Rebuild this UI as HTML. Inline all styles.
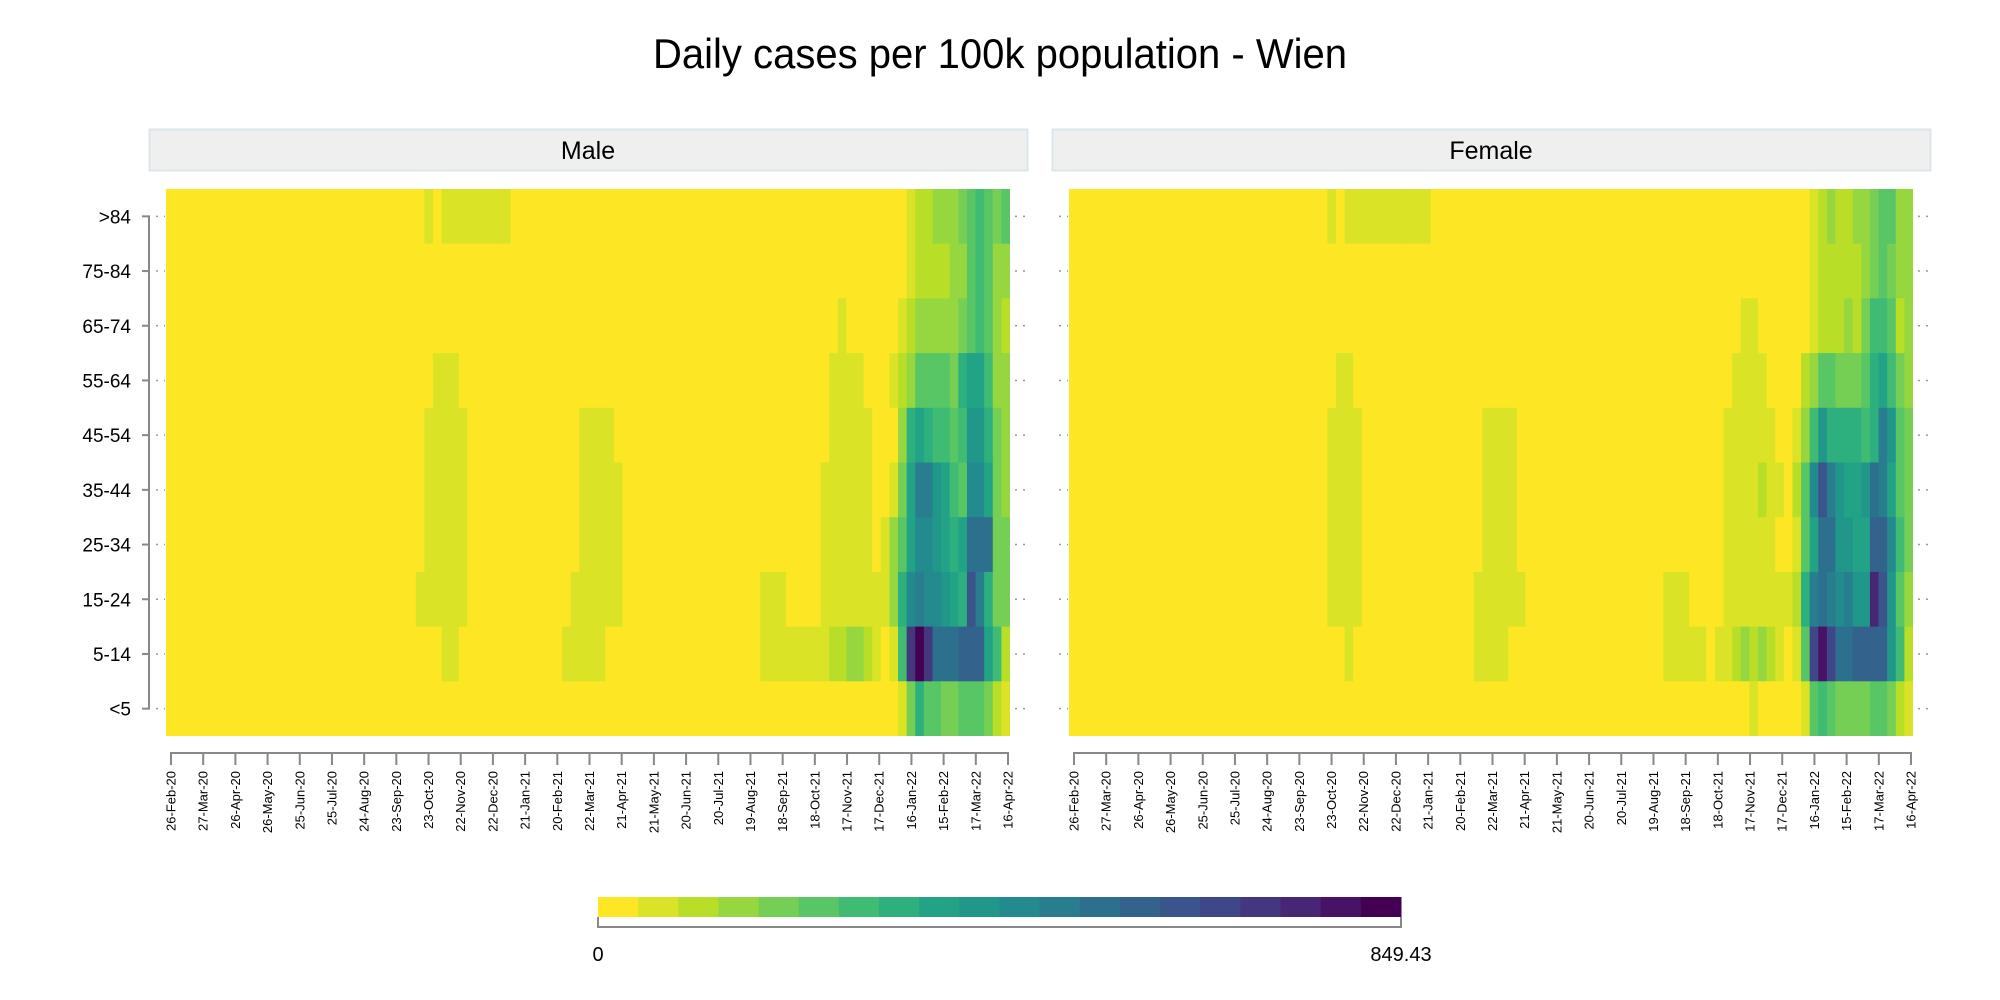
<!DOCTYPE html>
<html><head><meta charset="utf-8"><style>
html,body{margin:0;padding:0;background:#fff;}
svg{display:block;font-family:"Liberation Sans Narrow","Liberation Sans",sans-serif;}
</style></head><body>
<svg id="chart" width="2000" height="1000" viewBox="0 0 2000 1000" xmlns="http://www.w3.org/2000/svg">
<rect width="2000" height="1000" fill="#fff"/>
<text x="1000" y="68" text-anchor="middle" font-size="42" textLength="694" lengthAdjust="spacingAndGlyphs" fill="#000">Daily cases per 100k population - Wien</text>
<g><rect x="149.5" y="129.5" width="878" height="41" fill="#efefef" stroke="#dbe5ea" stroke-width="2"/><text x="588" y="159" text-anchor="middle" font-size="25" fill="#000">Male</text></g>
<g><rect x="1052.5" y="129.5" width="878" height="41" fill="#efefef" stroke="#dbe5ea" stroke-width="2"/><text x="1491" y="159" text-anchor="middle" font-size="25" fill="#000">Female</text></g>
<g id="layer"></g>
</svg>
<script>
const ageGroups = [">84","75-84","65-74","55-64","45-54","35-44","25-34","15-24","5-14","<5"];
const dateTicks = ["26-Feb-20","27-Mar-20","26-Apr-20","26-May-20","25-Jun-20","25-Jul-20","24-Aug-20","23-Sep-20","23-Oct-20","22-Nov-20","22-Dec-20","21-Jan-21","20-Feb-21","22-Mar-21","21-Apr-21","21-May-21","20-Jun-21","20-Jul-21","19-Aug-21","18-Sep-21","18-Oct-21","17-Nov-21","17-Dec-21","16-Jan-22","15-Feb-22","17-Mar-22","16-Apr-22"];
const numPeriods = 98;
const baseValue = 5;
const maxValue = 849.43;
const colorBins = 20;
// segments: [firstPeriod, lastPeriod, casesPer100k]
const maleSegments = [
[[30,30,62],[32,38,62],[39,39,62],[86,86,62],[87,88,105],[89,91,147],[92,92,190],[93,93,232],[94,94,275],[95,95,232],[96,96,190],[97,97,232]],
[[86,86,62],[87,90,105],[91,92,147],[93,93,232],[94,94,275],[95,95,232],[96,97,147]],
[[78,78,62],[85,85,62],[86,86,105],[87,91,147],[92,92,190],[93,93,232],[94,94,275],[95,95,232],[96,96,147],[97,97,105]],
[[31,33,62],[77,80,62],[84,84,62],[85,85,105],[86,86,147],[87,90,232],[91,91,190],[92,92,317],[93,94,360],[95,95,275],[96,97,147]],
[[30,34,62],[48,51,62],[77,81,62],[85,85,147],[86,86,317],[87,87,360],[88,88,317],[89,90,275],[91,91,232],[92,92,275],[93,94,402],[95,95,317],[96,96,190],[97,97,147]],
[[30,34,62],[48,52,62],[76,81,62],[84,84,62],[85,85,190],[86,86,360],[87,88,487],[89,89,402],[90,90,360],[91,91,275],[92,92,232],[93,94,445],[95,95,360],[96,96,190],[97,97,147]],
[[30,34,62],[48,52,62],[76,81,62],[83,83,62],[84,84,147],[85,85,232],[86,86,360],[87,88,445],[89,89,402],[90,90,360],[91,91,317],[92,92,360],[93,95,530],[96,97,190]],
[[29,34,62],[47,52,62],[69,71,62],[76,83,62],[84,84,147],[85,85,317],[86,86,445],[87,87,487],[88,89,445],[90,90,402],[91,91,360],[92,92,317],[93,93,615],[94,94,487],[95,95,317],[96,97,190]],
[[32,33,62],[46,50,62],[69,76,62],[77,78,105],[79,80,147],[81,81,105],[82,82,62],[84,84,62],[85,85,275],[86,86,700],[87,87,827],[88,88,700],[89,91,530],[92,94,572],[95,95,360],[96,96,275],[97,97,105]],
[[85,85,62],[86,86,190],[87,87,317],[88,89,232],[90,91,190],[92,94,232],[95,95,190],[96,96,105],[97,97,62]]
];
const femaleSegments = [
[[30,30,62],[32,41,62],[86,86,62],[87,87,105],[88,88,147],[89,90,105],[91,92,147],[93,93,190],[94,95,232],[96,97,147]],
[[86,86,62],[87,91,105],[92,92,147],[93,93,190],[94,94,232],[95,95,190],[96,97,147]],
[[78,79,62],[86,86,62],[87,89,105],[90,90,147],[91,91,105],[92,92,190],[93,94,275],[95,95,232],[96,96,105],[97,97,147]],
[[31,32,62],[77,80,62],[85,85,105],[86,86,147],[87,88,232],[89,91,190],[92,92,232],[93,93,317],[94,94,360],[95,95,275],[96,96,190],[97,97,147]],
[[30,33,62],[48,51,62],[76,81,62],[84,84,62],[85,85,147],[86,86,275],[87,87,402],[88,91,317],[92,92,275],[93,93,317],[94,94,487],[95,95,402],[96,96,232],[97,97,190]],
[[30,33,62],[48,51,62],[76,79,62],[80,80,105],[81,82,62],[84,84,105],[85,85,232],[86,86,445],[87,87,615],[88,88,487],[89,89,402],[90,91,360],[92,92,402],[93,93,530],[94,94,487],[95,95,360],[96,96,232],[97,97,190]],
[[30,33,62],[48,51,62],[76,81,62],[84,84,62],[85,85,232],[86,86,360],[87,88,530],[89,90,402],[91,92,360],[93,94,572],[95,95,445],[96,96,275],[97,97,190]],
[[30,33,62],[47,52,62],[69,71,62],[76,83,62],[84,84,105],[85,85,317],[86,86,487],[87,87,530],[88,88,487],[89,89,445],[90,90,487],[91,92,402],[93,93,742],[94,94,615],[95,95,402],[96,96,232],[97,97,147]],
[[32,32,62],[47,50,62],[69,73,62],[75,76,62],[77,77,105],[78,78,147],[79,79,105],[80,80,147],[81,81,105],[82,82,62],[84,84,62],[85,85,232],[86,86,657],[87,87,784],[88,88,657],[89,90,530],[91,94,572],[95,95,402],[96,96,275],[97,97,105]],
[[79,79,62],[85,85,62],[86,86,232],[87,87,275],[88,88,232],[89,92,190],[93,94,232],[95,95,190],[96,96,105],[97,97,62]]
];

const NS = "http://www.w3.org/2000/svg";
const layer = document.getElementById('layer');
function mk(tag, attrs, parent){const e=document.createElementNS(NS,tag);for(const k in attrs)e.setAttribute(k,attrs[k]);(parent||layer).appendChild(e);return e;}
const vir=[[0,[68,1,84]],[0.1,[72,36,117]],[0.2,[65,68,135]],[0.3,[53,95,141]],[0.4,[42,120,142]],[0.5,[33,145,140]],[0.6,[34,168,132]],[0.7,[68,191,112]],[0.8,[122,209,81]],[0.9,[189,223,38]],[1,[253,231,37]]];
function viridis(t){for(let i=0;i<vir.length-1;i++){const a=vir[i],b=vir[i+1];if(t<=b[0]){const f=(t-a[0])/(b[0]-a[0]);const c=a[1].map((v,j)=>Math.round(v+(b[1][j]-v)*f));return `rgb(${c[0]},${c[1]},${c[2]})`;}}return 'rgb(253,231,37)';}
function binColor(i){return viridis(1-i/(colorBins-1));}
function colorOf(v){let i=Math.floor(v/maxValue*colorBins);if(i>=colorBins)i=colorBins-1;if(i<0)i=0;return binColor(i);}

const plotTop=189, plotBottom=736, rowH=(plotBottom-plotTop)/ageGroups.length;
function expand(segs){const a=new Array(numPeriods).fill(baseValue);segs.forEach(s=>{for(let c=s[0];c<=s[1];c++)a[c]=s[2];});return a;}

function panel(name, x0, x1, segments, showY){
  const g=mk('g',{});
  
  
  const cw=(x1-x0)/numPeriods;
  const xScale=c=>x0+c*cw;
  const yScale=r=>plotTop+r*rowH;
  segments.forEach((segs,r)=>{
    const vals=expand(segs);
    vals.forEach((v,c)=>{
      const w=(c===numPeriods-1)?cw:cw+0.6;
      const rc=mk('rect',{x:xScale(c).toFixed(2),y:yScale(r).toFixed(2),width:w.toFixed(2),height:(r===ageGroups.length-1?rowH:rowH+0.6).toFixed(2),fill:colorOf(v)},g);
      
      
    });
  });
  ageGroups.forEach((a,r)=>{
    const y=yScale(r)+rowH/2;
    mk('line',{x1:x0-10,x2:x0-1,y1:y,y2:y,stroke:'#999','stroke-width':1.5,'stroke-dasharray':'2,6'},g);
    mk('line',{x1:x1+5,x2:x1+18,y1:y,y2:y,stroke:'#999','stroke-width':1.5,'stroke-dasharray':'2,6'},g);
  });
  const t0=x0+5, t1=x1-2;
  const ax=mk('g',{},g);
  
  
  mk('line',{x1:t0,x2:t1,y1:753,y2:753,stroke:'#888','stroke-width':2},ax);
  const step=(t1-t0)/(dateTicks.length-1);
  dateTicks.forEach((d,i)=>{
    const x=t0+i*step;
    mk('line',{x1:x,x2:x,y1:752,y2:765,stroke:'#888','stroke-width':2},ax);
    const tx=mk('text',{x:0,y:0,transform:`translate(${x+4.5},771) rotate(-90)`,'text-anchor':'end','font-size':13,fill:'#000'},ax);
    tx.textContent=d;
    
    
  });
  if(showY){
    const ay=mk('g',{},g);
    
    
    mk('line',{x1:149,x2:149,y1:yScale(0)+rowH/2,y2:yScale(ageGroups.length-1)+rowH/2,stroke:'#888','stroke-width':2},ay);
    ageGroups.forEach((a,r)=>{
      const y=yScale(r)+rowH/2;
      mk('line',{x1:142,x2:150,y1:y,y2:y,stroke:'#888','stroke-width':2},ay);
      const t=mk('text',{x:131,y:y+7,'text-anchor':'end','font-size':19,fill:'#000'},ay);
      t.textContent=a;
      
      
    });
  }
}
panel('male',166,1010,maleSegments,true);
panel('female',1069,1913,femaleSegments,false);

const lg=mk('g',{});


const lx0=598, lx1=1401, lw=(lx1-lx0)/colorBins;
for(let i=0;i<colorBins;i++){
  const r=mk('rect',{x:(lx0+i*lw).toFixed(2),y:897,width:(lw+0.5).toFixed(2),height:20,fill:binColor(i)},lg);
  
  
}
mk('line',{x1:lx0,x2:lx1,y1:927,y2:927,stroke:'#888','stroke-width':2},lg);
mk('line',{x1:lx0,x2:lx0,y1:917,y2:928,stroke:'#888','stroke-width':2},lg);
mk('line',{x1:lx1,x2:lx1,y1:917,y2:928,stroke:'#888','stroke-width':2},lg);
const l0=mk('text',{x:lx0,y:961,'text-anchor':'middle','font-size':20,fill:'#000'},lg);
l0.textContent='0';


const l1=mk('text',{x:lx1,y:961,'text-anchor':'middle','font-size':20,fill:'#000'},lg);
l1.textContent=String(maxValue);


</script>
</body></html>
